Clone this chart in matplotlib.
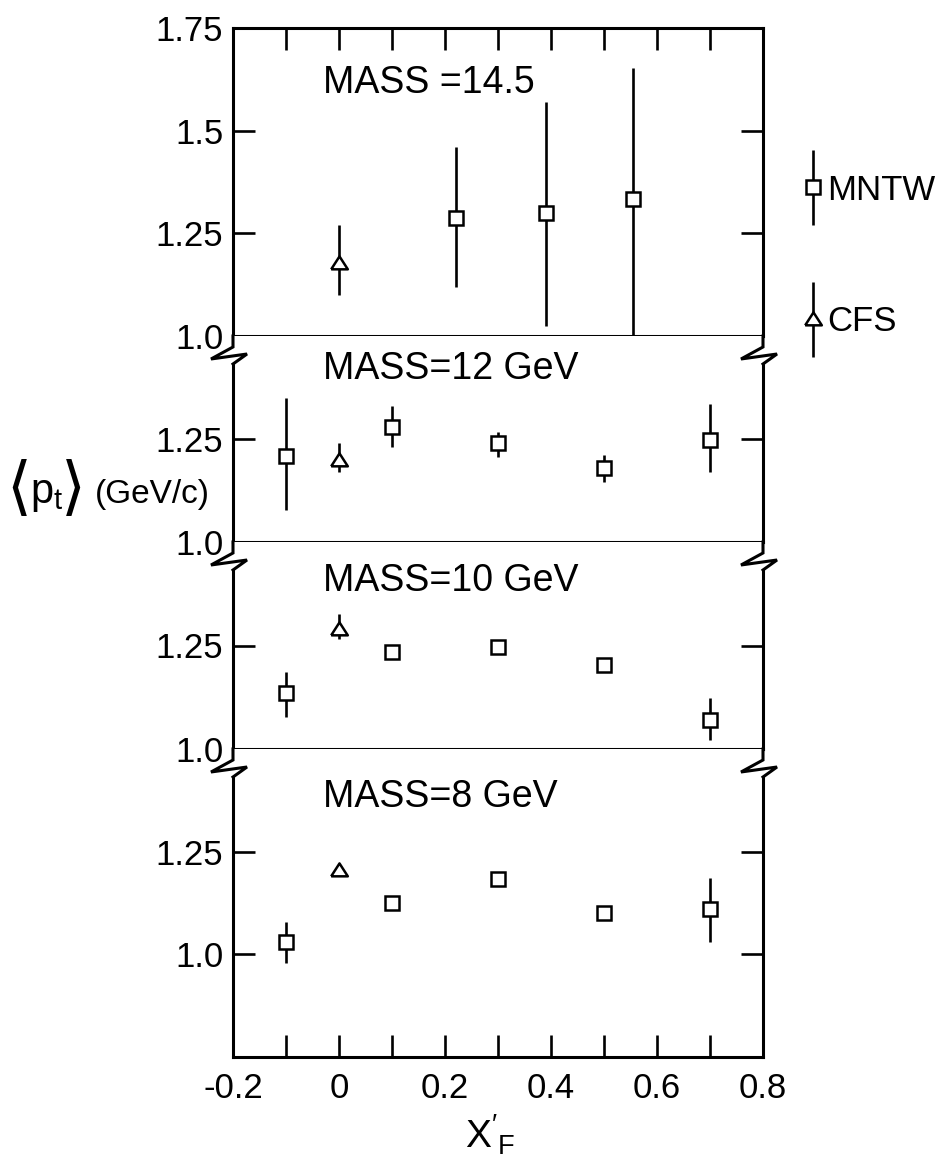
import numpy as np
import matplotlib
matplotlib.use("Agg")
import matplotlib.pyplot as plt
from matplotlib.lines import Line2D
from matplotlib.container import ErrorbarContainer
from matplotlib.legend_handler import HandlerErrorbar

plt.rcParams["font.family"] = ["Liberation Sans", "DejaVu Sans"]
plt.rcParams["mathtext.fontset"] = "custom"
plt.rcParams["mathtext.rm"] = "Liberation Sans"
plt.rcParams["mathtext.it"] = "Liberation Sans:italic"

# values: <pt> vs x'_F, error bar ends as lo / hi
mass_labels = ["MASS =14.5", "MASS=12 GeV", "MASS=10 GeV", "MASS=8 GeV"]
ylims = [(1.0, 1.75), (1.0, 1.5), (1.0, 1.5), (0.75, 1.5)]
yticks = [[1.0, 1.25, 1.5, 1.75], [1.0, 1.25], [1.0, 1.25], [1.0, 1.25]]

# MNTW (squares)
m145_x = [0.22, 0.39, 0.555]
m145_pt = [1.287, 1.300, 1.333]
m145_lo = [1.120, 1.024, 1.000]
m145_hi = [1.460, 1.570, 1.653]

m12_x = [-0.1, 0.1, 0.3, 0.5, 0.7]
m12_pt = [1.209, 1.280, 1.241, 1.180, 1.248]
m12_lo = [1.078, 1.230, 1.207, 1.146, 1.170]
m12_hi = [1.350, 1.330, 1.268, 1.212, 1.334]

m10_x = [-0.1, 0.1, 0.3, 0.5, 0.7]
m10_pt = [1.136, 1.234, 1.246, 1.204, 1.070]
m10_lo = [1.078, 1.224, 1.236, 1.194, 1.022]
m10_hi = [1.185, 1.244, 1.256, 1.214, 1.124]

m8_x = [-0.1, 0.1, 0.3, 0.5, 0.7]
m8_pt = [1.029, 1.124, 1.183, 1.100, 1.110]
m8_lo = [0.980, 1.114, 1.173, 1.090, 1.030]
m8_hi = [1.078, 1.134, 1.193, 1.110, 1.187]

# CFS (triangles), one point per mass at x'_F = 0
cfs_x = [0.0, 0.0, 0.0, 0.0]
cfs_pt = [1.178, 1.200, 1.290, 1.205]
cfs_lo = [1.100, 1.170, 1.265, 1.195]
cfs_hi = [1.270, 1.241, 1.326, 1.215]

mntw = [
    (m145_x, m145_pt, m145_lo, m145_hi),
    (m12_x, m12_pt, m12_lo, m12_hi),
    (m10_x, m10_pt, m10_lo, m10_hi),
    (m8_x, m8_pt, m8_lo, m8_hi),
]
label_y = [1.616, 1.419, 1.407, 1.382]

W, H = 949, 1164
fig = plt.figure(figsize=(W / 100, H / 100), dpi=100, facecolor="white")

left_px, right_px = 233, 763
edges_px = [28, 336, 542, 749, 1057]
tri = [(-1, -0.7), (1, -0.7), (0, 0.85), (-1, -0.7)]
LW = 2.2
TICK_FS = 25

axes = []
handles = []
for i in range(4):
    top, bot = edges_px[i], edges_px[i + 1]
    ax = fig.add_axes([left_px / W, 1 - bot / H, (right_px - left_px) / W, (bot - top) / H])
    axes.append(ax)
    ax.set_xlim(-0.2, 0.8)
    ax.set_ylim(*ylims[i])

    x, y, lo, hi = mntw[i]
    y = np.array(y)
    err = [y - np.array(lo), np.array(hi) - y]
    h1 = ax.errorbar(x, y, yerr=err, fmt="s", color="black", ms=9.5, mfc="white",
                     mew=1.8, elinewidth=1.9, capsize=0)
    h2 = ax.errorbar([cfs_x[i]], [cfs_pt[i]],
                     yerr=[[cfs_pt[i] - cfs_lo[i]], [cfs_hi[i] - cfs_pt[i]]],
                     fmt="", marker=tri, linestyle="none", color="black", ms=12,
                     mfc="white", mec="black", mew=1.8, elinewidth=1.9, capsize=0)
    if i == 0:
        handles = [h1, h2]

    ax.text(-0.03, label_y[i], mass_labels[i], fontsize=27, va="center", ha="left")

    for s in ax.spines.values():
        s.set_linewidth(LW)
    if i > 0:
        ax.spines["top"].set_visible(False)

    ax.set_yticks(yticks[i])
    ax.set_yticklabels([("%g" % v) if v != 1.0 else "1.0" for v in yticks[i]])
    ax.tick_params(axis="y", direction="in", length=16, width=1.9, left=True, right=True,
                   labelsize=TICK_FS, pad=7)

    xt = np.round(np.arange(-0.2, 0.81, 0.1), 1)
    ax.set_xticks(xt)
    if i == 3:
        ax.set_xticklabels([("%g" % v if k % 2 == 0 else "") for k, v in enumerate(xt)])
        ax.tick_params(axis="x", direction="in", length=16, width=1.9, bottom=True,
                       top=False, labelsize=TICK_FS, pad=11)
    elif i == 0:
        ax.tick_params(axis="x", direction="in", length=16, width=1.9, bottom=False,
                       top=True, labelbottom=False)
    else:
        ax.tick_params(axis="x", bottom=False, top=False, labelbottom=False)

    # axis break: zigzag just under the panel boundary
    if i > 0:
        gap = 28
        y0, y1 = ylims[i]
        ax.spines["left"].set_bounds(y0, y1 - gap / (bot - top) * (y1 - y0))
        ax.spines["right"].set_bounds(y0, y1 - gap / (bot - top) * (y1 - y0))
        zz = [(0, 0), (0, 11), (-22, 23), (14, 18), (0, gap)]
        for xs in (left_px, right_px):
            fx = [(xs + dx) / W for dx, dy in zz]
            fy = [1 - (top + dy) / H for dx, dy in zz]
            fig.add_artist(Line2D(fx, fy, color="black", lw=LW,
                                  transform=fig.transFigure, solid_joinstyle="miter"))

axes[0].legend(handles=handles, labels=["MNTW", "CFS"], loc="center left",
               bbox_to_anchor=(801 / W, 1 - 256 / H), bbox_transform=fig.transFigure,
               frameon=False, borderaxespad=0, borderpad=0, handlelength=0.7,
               handletextpad=0.05, labelspacing=2.85, numpoints=1, fontsize=25,
               handler_map={ErrorbarContainer: HandlerErrorbar(yerr_size=1.08)})

# y label: <p_t> (GeV/c)
fig.text(6 / W, 1 - 490 / H, "\u27e8", fontsize=46, family="DejaVu Sans",
         ha="left", va="center")
fig.text(30 / W, 1 - 494 / H, r"$\mathrm{p_t}$", fontsize=30, ha="left", va="center")
fig.text(61 / W, 1 - 490 / H, "\u27e9", fontsize=46, family="DejaVu Sans",
         ha="left", va="center")
fig.text(95 / W, 1 - 495 / H, "(GeV/c)", fontsize=24, ha="left", va="center")
fig.text(490 / W, 1 - 1135 / H, r"$\mathrm{X'_F}$", fontsize=28, ha="center", va="center")

fig.savefig("out.png", dpi=100, facecolor="white")
